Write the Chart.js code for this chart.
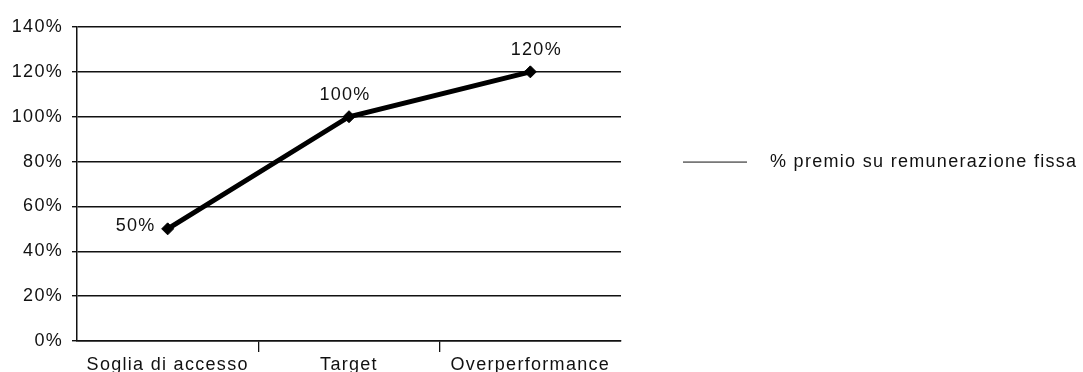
<!DOCTYPE html>
<html>
<head>
<meta charset="utf-8">
<script src="https://cdn.jsdelivr.net/npm/chart.js@4.4.1/dist/chart.umd.min.js"></script>
<style>
  html, body { margin: 0; padding: 0; background: #fff; }
  #wrap { width: 1083px; height: 372px; }
</style>
</head>
<body>
<div id="wrap"><canvas id="c" width="1083" height="372"></canvas></div>
<script>
const categories = ['Soglia di accesso', 'Target', 'Overperformance'];
const seriesLabel = '% premio su remunerazione fissa';
const seriesValues = [50, 100, 120];
const yTicks = [0, 20, 40, 60, 80, 100, 120, 140];

const FONT = '"Liberation Sans", Arial, Helvetica, sans-serif';
const TXT = '#111';
const LS = '1.3px';

const spacing = {
  id: 'spacing',
  beforeUpdate(chart) { chart.ctx.letterSpacing = LS; },
  beforeLayout(chart) { chart.ctx.letterSpacing = LS; },
  beforeDraw(chart) { chart.ctx.letterSpacing = LS; }
};

const dataLabels = {
  id: 'dataLabels',
  afterDatasetsDraw(chart) {
    const ctx = chart.ctx;
    const meta = chart.getDatasetMeta(0);
    ctx.save();
    ctx.letterSpacing = LS;
    ctx.font = '18px ' + FONT;
    ctx.fillStyle = TXT;
    ctx.textBaseline = 'middle';
    meta.data.forEach((pt, i) => {
      const txt = seriesValues[i] + '%';
      if (i === 0) {
        ctx.textAlign = 'right';
        ctx.fillText(txt, pt.x - 12, pt.y - 3);
      } else {
        ctx.textAlign = 'center';
        ctx.fillText(txt, pt.x + (i === 1 ? -4 : 6), pt.y - 22);
      }
    });
    ctx.restore();
  }
};

const sideLegend = {
  id: 'sideLegend',
  afterDraw(chart) {
    const ctx = chart.ctx;
    const y = chart.scales.y.getPixelForValue(80);
    ctx.save();
    ctx.strokeStyle = '#111';
    ctx.lineWidth = 1;
    ctx.beginPath();
    ctx.moveTo(683, y + 0.5);
    ctx.lineTo(747, y + 0.5);
    ctx.stroke();
    ctx.letterSpacing = LS;
    ctx.font = '18px ' + FONT;
    ctx.fillStyle = TXT;
    ctx.textAlign = 'left';
    ctx.textBaseline = 'middle';
    ctx.fillText(chart.data.datasets[0].label, 770, y);
    ctx.restore();
  }
};

new Chart(document.getElementById('c'), {
  type: 'line',
  data: {
    labels: categories,
    datasets: [{
      label: seriesLabel,
      data: seriesValues,
      borderColor: '#000',
      backgroundColor: '#000',
      borderWidth: 5,
      pointStyle: 'rectRot',
      pointRadius: 6,
      pointBorderWidth: 1,
      pointBackgroundColor: '#000',
      pointBorderColor: '#000',
      tension: 0,
      fill: false
    }]
  },
  options: {
    responsive: false,
    animation: false,
    devicePixelRatio: 1,
    layout: { padding: { left: 0, right: 462, top: 27, bottom: 0 } },
    plugins: { legend: { display: false }, tooltip: { enabled: false } },
    scales: {
      x: {
        type: 'category',
        offset: true,
        afterFit(scale) { scale.height = 31; },
        grid: {
          offset: true,
          drawOnChartArea: false,
          drawTicks: true,
          tickLength: 11,
          lineWidth: 1.3,
          color: (c) => (c.type === 'tick' && c.index > 0) ? '#111' : 'rgba(0,0,0,0)'
        },
        border: { display: true, color: '#111', width: 1.5 },
        ticks: { color: TXT, padding: 2, font: { family: FONT, size: 18 }, maxRotation: 0 }
      },
      y: {
        min: 0,
        max: 140,
        afterFit(scale) { scale.width = 77; },
        afterBuildTicks(scale) { scale.ticks = yTicks.map(v => ({ value: v })); },
        grid: { color: '#111', lineWidth: 1.4, drawTicks: true, tickLength: 5 },
        border: { display: true, color: '#111', width: 1.5 },
        ticks: {
          color: TXT,
          padding: 9,
          font: { family: FONT, size: 18 },
          callback: (v) => v + '%'
        }
      }
    }
  },
  plugins: [spacing, dataLabels, sideLegend]
});
</script>
</body>
</html>
